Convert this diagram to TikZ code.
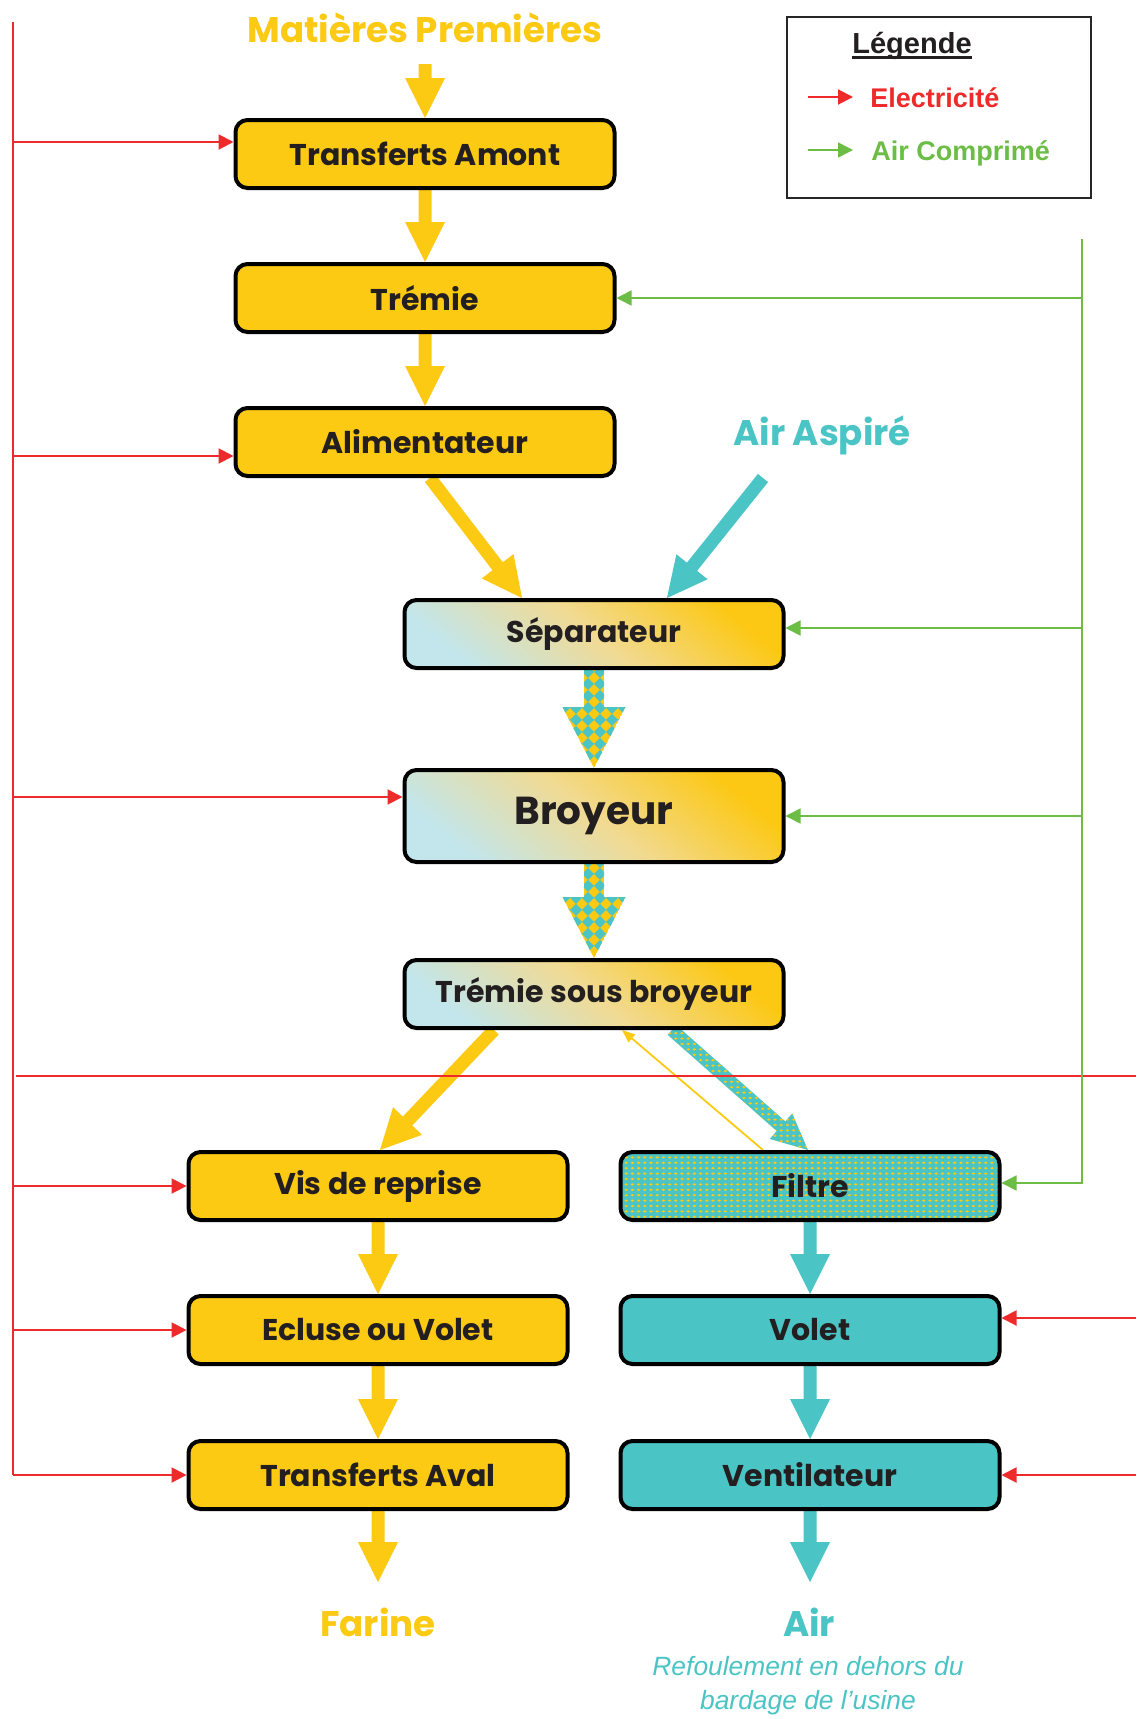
\documentclass[tikz,border=0pt]{standalone}
\usepackage{fontspec}
\setmainfont{Poppins}
\newfontfamily\arialf{Liberation Sans}
\usetikzlibrary{calc,arrows.meta,patterns}

\definecolor{ycol}{HTML}{FCC913}
\definecolor{tcol}{HTML}{4BC4C5}
\definecolor{rcol}{HTML}{EE2A2A}
\definecolor{gcol}{HTML}{6BBD45}
\definecolor{ink}{HTML}{231F20}
\definecolor{gradA}{HTML}{C2E6EC}
\definecolor{gradM}{HTML}{F1DA92}
\definecolor{gradB}{HTML}{FCC813}

% small yellow dots used on the filter
\pgfdeclarepatternformonly{yelldots}{\pgfqpoint{-1.4pt}{-1.2pt}}{\pgfqpoint{1.4pt}{1.2pt}}{\pgfqpoint{3.1pt}{2.7pt}}{%
  \pgfpathellipse{\pgfpointorigin}{\pgfqpoint{0.95pt}{0pt}}{\pgfqpoint{0pt}{0.6pt}}\pgfusepath{fill}}

\pgfdeclarelayer{bg}
\pgfsetlayers{bg,main}

\tikzset{
  box/.style={draw=black, line width=2pt, rounded corners=6pt, minimum width=189.5pt,
    minimum height=34pt, inner sep=0pt, text=ink, font=\fontsize{15}{17}\selectfont\bfseries},
  ybox/.style={box, fill=ycol},
  tbox/.style={box, fill=tcol},
  gbox/.style={box, left color=gradA, right color=gradB, middle color=gradM, shading angle=140},
  fbox/.style={box, preaction={fill=tcol}, pattern=yelldots, pattern color=ycol},
  elec/.style={draw=rcol, line width=1pt, -{Triangle[length=7.5pt,width=7.5pt]}},
  eline/.style={draw=rcol, line width=1pt},
  air/.style={draw=gcol, line width=0.8pt, -{Triangle[length=7.5pt,width=7.5pt]}},
  bigtitle/.style={inner sep=0pt, font=\fontsize{17.8}{21}\selectfont\bfseries},
  legtext/.style={anchor=base west, inner sep=0pt, font=\arialf\bfseries\fontsize{13.5}{16}\selectfont},
}

% corner points of a wide arrow: start, tip, shaft half width, head half width, head length
\newcommand\arrowpts[5]{%
  \coordinate (pa1) at ($(#1)!#3!90:(#2)$);
  \coordinate (pa2) at ($(#1)!#3!-90:(#2)$);
  \coordinate (ptip) at (#2);
  \coordinate (pH) at ($(#2)!#5!(#1)$);
  \coordinate (ph1) at ($(pH)!#3!90:(#2)$);
  \coordinate (ph2) at ($(pH)!#3!-90:(#2)$);
  \coordinate (pH1) at ($(pH)!#4!90:(#2)$);
  \coordinate (pH2) at ($(pH)!#4!-90:(#2)$);
}
\newcommand\fatarrow[6]{%
  \arrowpts{#2}{#3}{#4}{#5}{#6}%
  \path[#1] (pa1) -- (ph1) -- (pH1) -- (ptip) -- (pH2) -- (ph2) -- (pa2) -- cycle;
}
\newcommand\yarrow[2]{\fatarrow{fill=ycol}{#1}{#2}{3.25pt}{10pt}{20pt}}
\newcommand\tarrow[2]{\fatarrow{fill=tcol}{#1}{#2}{3.25pt}{10pt}{20pt}}
% wide arrow filled with a diagonal yellow/teal checkerboard
\newcommand\checkarrow[2]{%
  \arrowpts{#1}{#2}{5pt}{15.75pt}{30.5pt}%
  \begin{scope}
    \clip (pa1) -- (ph1) -- (pH1) -- (ptip) -- (pH2) -- (ph2) -- (pa2) -- cycle;
    \fill[ycol] (pa1) -- (ph1) -- (pH1) -- (ptip) -- (pH2) -- (ph2) -- (pa2) -- cycle;
    \begin{scope}[shift={(ptip)}, rotate=45]
      \foreach \i in {-14,...,14}{\foreach \j in {-14,...,14}{%
        \pgfmathtruncatemacro\cpar{mod(\i+\j+100,2)}%
        \ifnum\cpar=0 \fill[tcol] (\i*8.5,\j*8.5) rectangle ++(8.5,8.5);\fi}}
    \end{scope}
  \end{scope}
}

\begin{document}
\begin{tikzpicture}[x=0.5pt, y=-0.5pt]
\useasboundingbox (0,0) rectangle (1136,1719);
\begin{pgfonlayer}{bg}
  \fill[white] (0,0) rectangle (1136,1719);
\end{pgfonlayer}

% process boxes
\node[ybox] (TA)  at (425,154)  {Transferts Amont};
\node[ybox] (Tr)  at (425,298)  {Trémie};
\node[ybox] (Al)  at (425,442)  {Alimentateur};
\node[gbox] (Sep) at (594,634)  {Séparateur};
\node[gbox, minimum height=46pt, font=\fontsize{19.5}{22}\selectfont\bfseries] (Bro) at (594,816) {Broyeur};
\node[gbox] (TSB) at (594,994)  {Trémie sous broyeur};
\node[ybox] (Vis) at (378,1186) {Vis de reprise};
\node[fbox] (Fil) at (810,1186) {Filtre};
\node[ybox] (Ecl) at (378,1330) {Ecluse ou Volet};
\node[tbox] (Vol) at (810,1330) {Volet};
\node[ybox] (TAv) at (378,1475) {Transferts Aval};
\node[tbox] (Ven) at (810,1475) {Ventilateur};

% inputs and outputs
\node[bigtitle, text=ycol] (mp) at (425,28) {Matières Premières};
\node[bigtitle, text=tcol] (aa) at (822,435) {Air Aspiré};
\node[bigtitle, text=ycol] (far) at (378,1622) {Farine};
\node[bigtitle, text=tcol] (airout) at (809,1622) {Air};
\node[text=tcol, inner sep=0pt, align=center, font=\arialf\itshape\fontsize{13.2}{17}\selectfont] (refo) at (808,1686)
  {Refoulement en dehors du\\bardage de l’usine};

% legend
\node[draw=black!85, line width=1pt, minimum width=152pt, minimum height=90.5pt, inner sep=0pt] (leg) at (939,107.5) {};
\node[inner sep=0pt, text=ink, font=\arialf\bfseries\fontsize{14.5}{17}\selectfont] (legT) at (912,46) {Légende};
\draw[ink, line width=1.3pt] ([yshift=-2pt]legT.base west) -- ([yshift=-2pt]legT.base east);
\coordinate (le1) at (808,97);  \coordinate (le2) at (853,97);
\coordinate (lg1) at (808,150); \coordinate (lg2) at (853,150);
\draw[elec] (le1) -- (le2);
\draw[air] (lg1) -- (lg2);
\node[legtext, text=rcol] (legE) at (870,107) {Electricité};
\node[legtext, text=gcol] (legA) at (871,160) {Air Comprimé};

% electricity supply, left side
\coordinate (eTop) at (13,22);
\coordinate (taIn) at ([yshift=6pt]TA.west);
\coordinate (alIn) at ([yshift=-7pt]Al.west);
\coordinate (broIn) at ([yshift=9.5pt]Bro.west);
\draw[eline] (eTop) -- (eTop |- TAv.west);
\draw[elec] (eTop |- taIn) -- (taIn);
\draw[elec] (eTop |- alIn) -- (alIn);
\draw[elec] (eTop |- broIn) -- (broIn);
\draw[elec] (eTop |- Vis.west) -- (Vis.west);
\draw[elec] (eTop |- Ecl.west) -- (Ecl.west);
\draw[elec] (eTop |- TAv.west) -- (TAv.west);

% electricity supply, crossing line and right side
\coordinate (hL) at (16,1076);
\coordinate (hR) at (1136,1076);
\draw[eline] (hL) -- (hR);
\coordinate (eRight) at (1136,0);
\coordinate (volIn) at ([yshift=6pt]Vol.east);
\draw[elec] (eRight |- volIn) -- (volIn);
\draw[elec] (eRight |- Ven.east) -- (Ven.east);

% compressed air supply
\coordinate (gTop) at (1082,239);
\coordinate (filIn) at ([yshift=1.5pt]Fil.east);
\coordinate (sepIn) at ([yshift=3pt]Sep.east);
\draw[air] (gTop) |- (filIn);
\draw[air] (gTop |- Tr.east) -- (Tr.east);
\draw[air] (gTop |- sepIn) -- (sepIn);
\draw[air] (gTop |- Bro.east) -- (Bro.east);

% material and air flows
\begin{pgfonlayer}{bg}
  \coordinate (mpOut) at (425,64);
  \yarrow{mpOut}{TA.north}
  \yarrow{TA.south}{Tr.north}
  \yarrow{Tr.south}{Al.north}
  \coordinate (alOut) at ([xshift=2.5pt]Al.south);
  \coordinate (sepInY) at ([xshift=-36pt]Sep.north);
  \yarrow{alOut}{sepInY}
  \coordinate (airStart) at (763,478);
  \coordinate (sepInT) at ([xshift=36.5pt]Sep.north);
  \tarrow{airStart}{sepInT}
  \checkarrow{Sep.south}{Bro.north}
  \checkarrow{Bro.south}{TSB.north}
  \coordinate (tsbOutL) at ([xshift=-50pt]TSB.south);
  \coordinate (visIn) at ([xshift=1pt]Vis.north);
  \yarrow{tsbOutL}{visIn}
  \coordinate (tsbOutR) at ([xshift=39pt]TSB.south);
  \coordinate (filTop) at ([xshift=-1pt]Fil.north);
  \fatarrow{preaction={fill=tcol}, pattern=yelldots, pattern color=ycol}{tsbOutR}{filTop}{3.25pt}{8.5pt}{18pt}
  \coordinate (filBack) at ([xshift=-23.5pt]Fil.north);
  \coordinate (tsbBack) at ([xshift=14pt]TSB.south);
  \draw[ycol, line width=0.9pt, -{Triangle[length=6.5pt,width=5pt]}] (filBack) -- (tsbBack);
  \yarrow{Vis.south}{Ecl.north}
  \yarrow{Ecl.south}{TAv.north}
  \coordinate (farTip) at ($(TAv.south)+(0,71)$);
  \yarrow{TAv.south}{farTip}
  \tarrow{Fil.south}{Vol.north}
  \tarrow{Vol.south}{Ven.north}
  \coordinate (airTip) at ($(Ven.south)+(0,71)$);
  \tarrow{Ven.south}{airTip}
\end{pgfonlayer}
\end{tikzpicture}
\end{document}
